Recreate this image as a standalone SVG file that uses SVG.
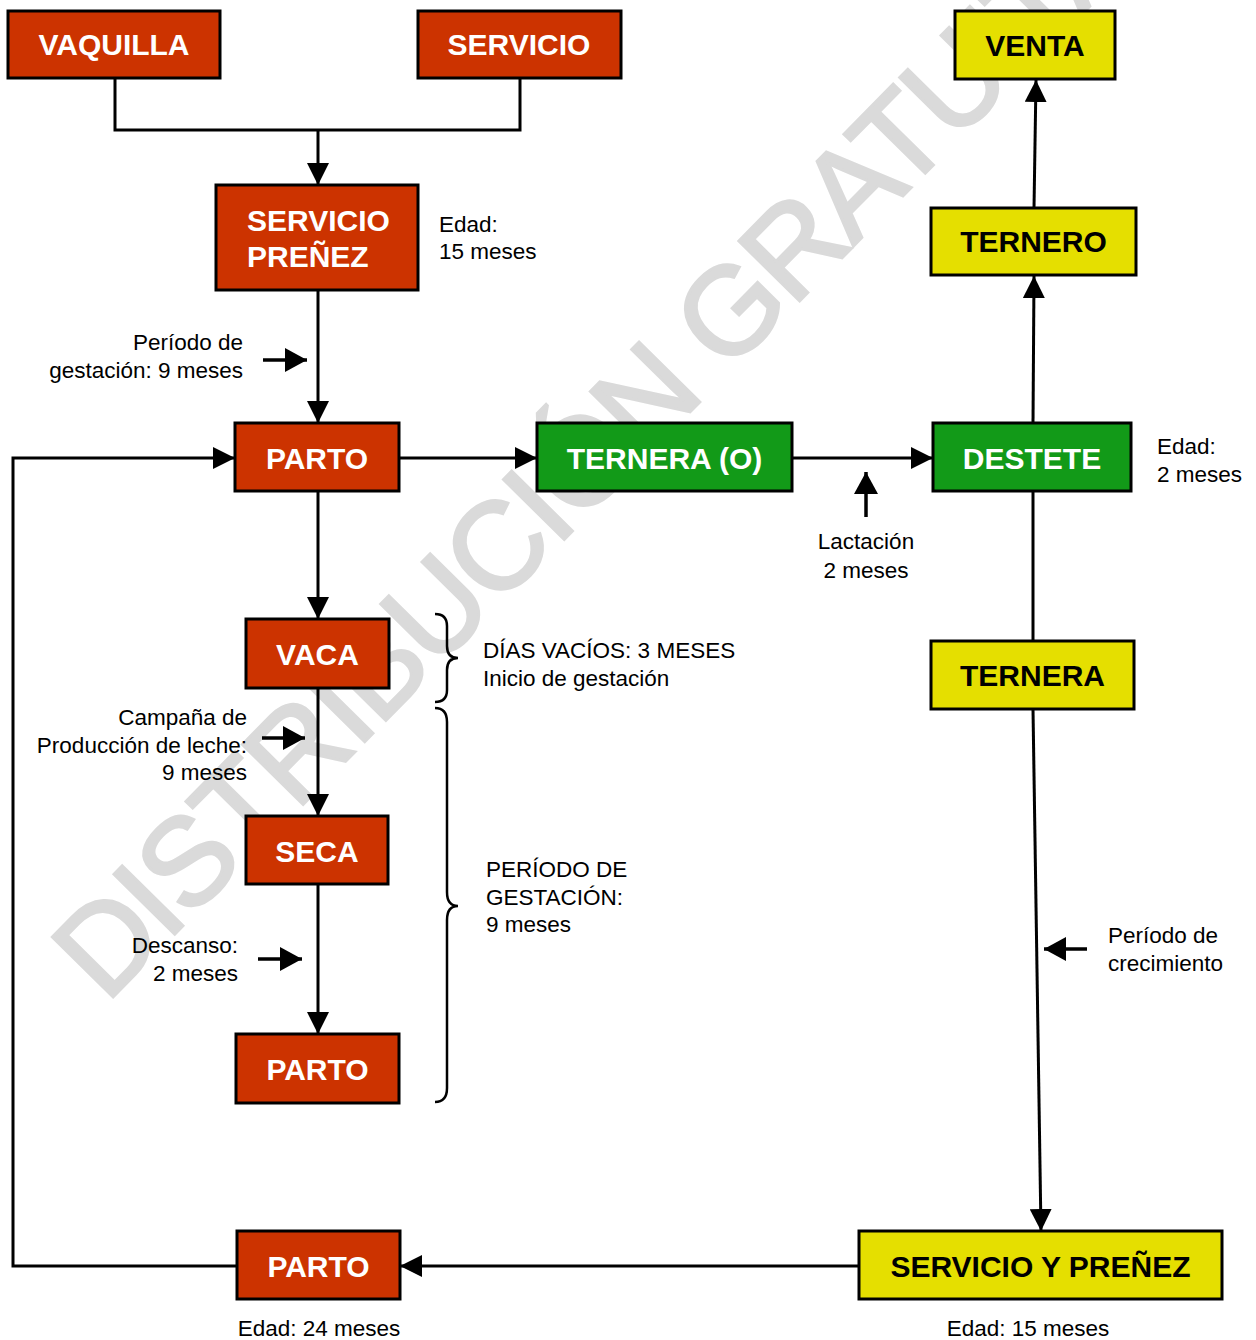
<svg xmlns="http://www.w3.org/2000/svg" width="1256" height="1340" viewBox="0 0 1256 1340">
<style>
.box{stroke:#000;stroke-width:3}
.red{fill:#CC3300}
.grn{fill:#129A18}
.yel{fill:#E5DF00}
.lbl{font-family:"Liberation Sans",Arial,sans-serif;font-weight:bold;font-size:30px;text-anchor:middle}
.w{fill:#fff}
.k{fill:#000}
.t{font-family:"Liberation Sans",Arial,sans-serif;font-size:22.5px;fill:#000}
.c{stroke:#000;stroke-width:3;fill:none}
.s{stroke:#000;stroke-width:3.5;fill:none}
.br{stroke:#000;stroke-width:2.5;fill:none}
</style>
<defs>
<marker id="ah" markerUnits="userSpaceOnUse" markerWidth="22" markerHeight="22" refX="22" refY="11" orient="auto">
<path d="M0,0 L22,11 L0,22 z" fill="#000"/>
</marker>
<marker id="as" markerUnits="userSpaceOnUse" markerWidth="22" markerHeight="24" refX="22" refY="12" orient="auto">
<path d="M0,0 L22,12 L0,24 z" fill="#000"/>
</marker>
</defs>
<rect width="1256" height="1340" fill="#fff"/>
<text transform="translate(106,1004) rotate(-45.4)" font-family="Liberation Sans,Arial,sans-serif" font-size="124" letter-spacing="-3" fill="#dadada" stroke="#dadada" stroke-width="3">DISTRIBUCIÓN GRATUITA</text>

<g id="connectors">
<path class="c" d="M115,78 V130 H520 V78"/>
<path class="c" d="M318,130 V185" marker-end="url(#ah)"/>
<path class="c" d="M318,290 V423" marker-end="url(#ah)"/>
<path class="c" d="M237,1266 H13 V458 H235" marker-end="url(#ah)"/>
<path class="c" d="M399,458 H537" marker-end="url(#ah)"/>
<path class="c" d="M792,458 H933" marker-end="url(#ah)"/>
<path class="c" d="M1033,423 L1034,276" marker-end="url(#ah)"/>
<path class="c" d="M1034,208 L1036,80" marker-end="url(#ah)"/>
<path class="c" d="M1033,491 V641"/>
<path class="c" d="M1033,709 L1041,1231" marker-end="url(#ah)"/>
<path class="c" d="M859,1266 H400" marker-end="url(#ah)"/>
<path class="c" d="M318,491 V619" marker-end="url(#ah)"/>
<path class="c" d="M318,688 V816" marker-end="url(#ah)"/>
<path class="c" d="M318,884 V1034" marker-end="url(#ah)"/>
<path class="s" d="M263,360 H307" marker-end="url(#as)"/>
<path class="s" d="M262,738 H305" marker-end="url(#as)"/>
<path class="s" d="M258,959 H302" marker-end="url(#as)"/>
<path class="s" d="M866,517 V472" marker-end="url(#as)"/>
<path class="s" d="M1087,949 H1044" marker-end="url(#as)"/>
<path class="br" d="M435,614 Q447,614 447,626 V646 Q447,658 458,658 Q447,658 447,670 V690 Q447,702 435,702"/>
<path class="br" d="M435,708 Q447,708 447,722 V892 Q447,906 458,906 Q447,906 447,920 V1088 Q447,1102 435,1102"/>
</g>

<g id="vaquilla"><rect class="box red" x="8" y="11" width="212" height="67"/><text class="lbl w" x="114" y="55">VAQUILLA</text></g>
<g id="servicio"><rect class="box red" x="418" y="11" width="203" height="67"/><text class="lbl w" x="519" y="55">SERVICIO</text></g>
<g id="servicio-prenez"><rect class="box red" x="216" y="185" width="202" height="105"/><text class="lbl w" style="text-anchor:start" x="247" y="231">SERVICIO</text><text class="lbl w" style="text-anchor:start" x="247" y="267">PREÑEZ</text></g>
<g id="parto1"><rect class="box red" x="235" y="423" width="164" height="68"/><text class="lbl w" x="317" y="469">PARTO</text></g>
<g id="ternera-o"><rect class="box grn" x="537" y="423" width="255" height="68"/><text class="lbl w" x="664.5" y="469">TERNERA (O)</text></g>
<g id="destete"><rect class="box grn" x="933" y="423" width="198" height="68"/><text class="lbl w" x="1032" y="469">DESTETE</text></g>
<g id="ternero"><rect class="box yel" x="931" y="208" width="205" height="67"/><text class="lbl k" x="1033.5" y="252">TERNERO</text></g>
<g id="venta"><rect class="box yel" x="955" y="11" width="160" height="68"/><text class="lbl k" x="1035" y="56">VENTA</text></g>
<g id="ternera"><rect class="box yel" x="931" y="641" width="203" height="68"/><text class="lbl k" x="1032.5" y="686">TERNERA</text></g>
<g id="vaca"><rect class="box red" x="246" y="619" width="143" height="69"/><text class="lbl w" x="317.5" y="665">VACA</text></g>
<g id="seca"><rect class="box red" x="246" y="816" width="142" height="68"/><text class="lbl w" x="317" y="862">SECA</text></g>
<g id="parto2"><rect class="box red" x="236" y="1034" width="163" height="69"/><text class="lbl w" x="317.5" y="1080">PARTO</text></g>
<g id="parto3"><rect class="box red" x="237" y="1231" width="163" height="68"/><text class="lbl w" x="318.5" y="1277">PARTO</text></g>
<g id="servicio-y-prenez"><rect class="box yel" x="859" y="1231" width="363" height="68"/><text class="lbl k" x="1040.5" y="1277">SERVICIO Y PREÑEZ</text></g>

<g id="labels">
<text class="t" x="439" y="232">Edad:</text>
<text class="t" x="439" y="259">15 meses</text>
<text class="t" x="243" y="350" text-anchor="end">Período de</text>
<text class="t" x="243" y="378" text-anchor="end">gestación: 9 meses</text>
<text class="t" x="247" y="725" text-anchor="end">Campaña de</text>
<text class="t" x="247" y="753" text-anchor="end">Producción de leche:</text>
<text class="t" x="247" y="780" text-anchor="end">9 meses</text>
<text class="t" x="238" y="953" text-anchor="end">Descanso:</text>
<text class="t" x="238" y="981" text-anchor="end">2 meses</text>
<text class="t" x="483" y="658">DÍAS VACÍOS: 3 MESES</text>
<text class="t" x="483" y="686">Inicio de gestación</text>
<text class="t" x="486" y="877">PERÍODO DE</text>
<text class="t" x="486" y="905">GESTACIÓN:</text>
<text class="t" x="486" y="932">9 meses</text>
<text class="t" x="866" y="549" text-anchor="middle">Lactación</text>
<text class="t" x="866" y="578" text-anchor="middle">2 meses</text>
<text class="t" x="1157" y="454">Edad:</text>
<text class="t" x="1157" y="482">2 meses</text>
<text class="t" x="1108" y="943">Período de</text>
<text class="t" x="1108" y="971">crecimiento</text>
<text class="t" x="1028" y="1336" text-anchor="middle">Edad: 15 meses</text>
<text class="t" x="319" y="1336" text-anchor="middle">Edad: 24 meses</text>
</g>
</svg>
